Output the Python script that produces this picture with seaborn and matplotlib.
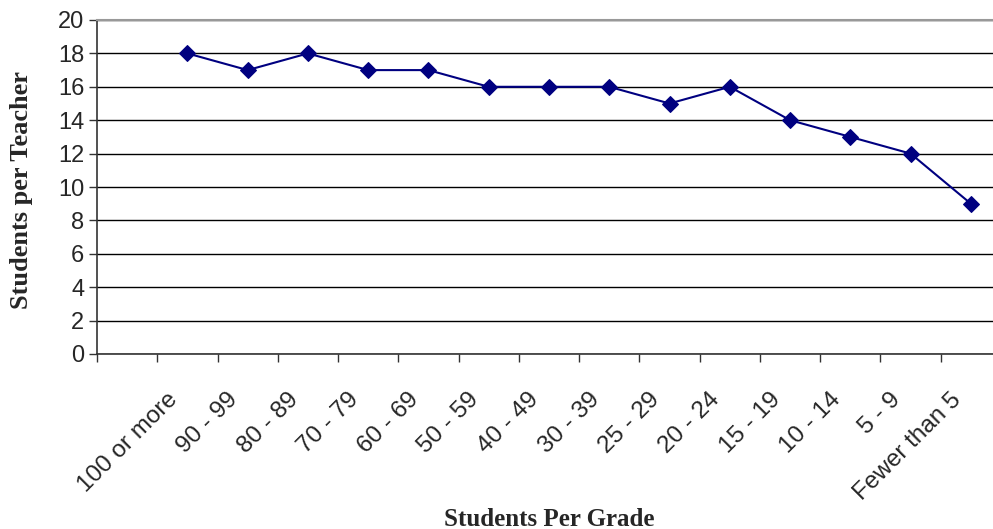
import numpy as np
import matplotlib
matplotlib.use("Agg")
import matplotlib.pyplot as plt
import matplotlib.transforms as mtransforms
import seaborn as sns

# data
grades = ["100 or more", "90 - 99", "80 - 89", "70 - 79", "60 - 69", "50 - 59",
          "40 - 49", "30 - 39", "25 - 29", "20 - 24", "15 - 19", "10 - 14",
          "5 - 9", "Fewer than 5"]
ratio = [18, 17, 18, 17, 17, 16, 16, 16, 15, 16, 14, 13, 12, 9]
yticks = [0, 2, 4, 6, 8, 10, 12, 14, 16, 18, 20]

sns.set_style("white")
plt.rcParams["font.family"] = ["Liberation Sans", "DejaVu Sans"]

fig = plt.figure(figsize=(9.93, 5.29), dpi=100)
# plot area: x from 97px to ~1001px (runs past right edge), y from 20px to 354px
ax = fig.add_axes([97 / 993, 1 - 354 / 529, 904 / 993, 334 / 529])

pos = np.arange(len(grades))
sns.lineplot(x=pos, y=ratio, ax=ax, color="#000080", linewidth=1.5,
             marker="D", markersize=8, markeredgecolor="#000080")

ax.set_xlim(-1.5, len(grades) - 0.5)
ax.set_ylim(0, 20)
ax.set_yticks(yticks)
ax.set_yticklabels([str(v) for v in yticks], fontsize=17)
ax.yaxis.grid(True, color="black", linewidth=1)
ax.set_axisbelow(True)

ax.set_xticks(pos)
ax.set_xticklabels(grades, fontsize=17.5, rotation=45, ha="right", va="top",
                   rotation_mode="anchor")
ax.set_xticks(np.arange(-1.5, len(grades) - 0.5, 1), minor=True)
ax.tick_params(axis="x", which="major", length=0, pad=25, bottom=True)
ax.tick_params(axis="x", which="minor", length=6, width=1, color="#333333",
               direction="out", bottom=True)
ax.tick_params(axis="y", length=6, width=1, color="#333333", direction="out",
               pad=3, left=True)
shift = mtransforms.ScaledTranslation(-21 / 100, 0, fig.dpi_scale_trans)
for lbl in ax.get_xticklabels():
    lbl.set_transform(lbl.get_transform() + shift)

for side in ["left", "bottom"]:
    ax.spines[side].set_color("#333333")
    ax.spines[side].set_linewidth(1.2)
ax.spines["top"].set_color("#999999")
ax.spines["top"].set_linewidth(1.5)
ax.spines["right"].set_visible(False)

fig.text(22 / 993, 1 - 190 / 529, "Students per Teacher", rotation=90,
         ha="center", va="center", fontsize=19, fontweight="bold",
         family=["Liberation Serif", "DejaVu Serif"])
fig.text(549 / 993, 1 - 519 / 529, "Students Per Grade", ha="center",
         va="center", fontsize=18, fontweight="bold",
         family=["Liberation Serif", "DejaVu Serif"])

fig.savefig("out.png", dpi=100)
